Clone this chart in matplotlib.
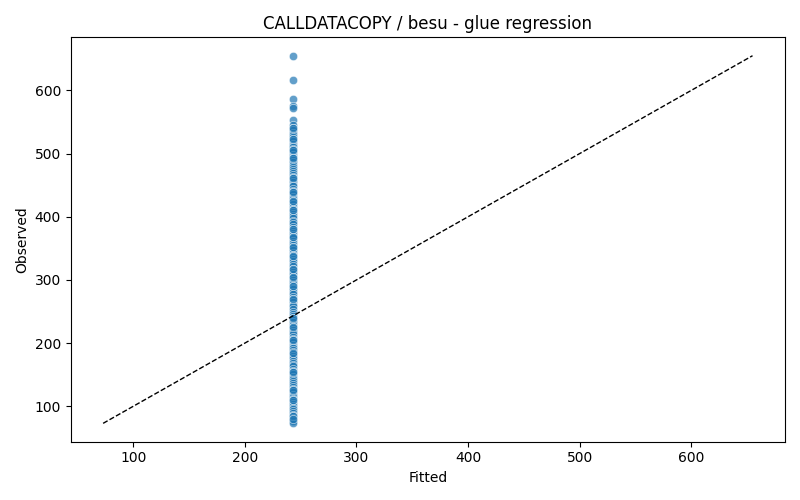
import numpy as np
import matplotlib
matplotlib.use("Agg")
import matplotlib.pyplot as plt

title = "CALLDATACOPY / besu - glue regression"
fitted_value = 243.5

observed = [
    655, 617, 587, 575, 572, 553, 546, 540, 537, 533, 530, 527, 523, 520,
    516, 512, 510, 507, 505, 502, 498, 494, 493, 490, 486, 482, 479, 475,
    472, 470, 466, 463, 461, 458, 455, 451, 448, 444, 441, 439, 436, 432,
    428, 425, 423, 420, 416, 412, 410, 407, 405, 402, 398, 394, 391, 388,
    384, 380, 378, 375, 371, 368, 366, 362, 358, 355, 352, 350, 347, 343,
    340, 338, 336, 333, 330, 326, 322, 318, 316, 313, 309, 305, 303, 300,
    297, 293, 290, 287, 285, 281, 277, 273, 270, 268, 265, 261, 258, 254,
    250, 246, 243, 240, 237, 233, 229, 226, 224, 221, 218, 214, 210, 207,
    205, 201, 197, 194, 192, 189, 186, 183, 180, 176, 172, 169, 166, 163,
    159, 156, 154, 151, 147, 143, 140, 137, 134, 131, 127, 125, 122, 118,
    115, 112, 110, 107, 104, 100, 97, 95, 92, 89, 86, 84, 82, 80, 78, 76, 73,
]
# overlapping repeats (darker spots in the column)
observed_repeats = [
    540, 523, 505, 493, 462, 440, 425, 410, 380, 368, 352, 338, 318, 305,
    290, 270, 240, 225, 205, 185, 155, 125, 110, 85, 80,
]

y = np.array(observed + observed_repeats, dtype=float)
x = np.array([fitted_value] * len(y))

fig, ax = plt.subplots(figsize=(8, 5), dpi=100)
ax.scatter(x, y, s=36, color="#1f77b4", alpha=0.7, edgecolor="white", linewidth=0.48)

lo = min(x.min(), y.min())
hi = max(x.max(), y.max())
ax.plot([lo, hi], [lo, hi], "k--", linewidth=1)

ax.set_title(title)
ax.set_xlabel("Fitted")
ax.set_ylabel("Observed")
fig.tight_layout()
fig.savefig("out.png")
